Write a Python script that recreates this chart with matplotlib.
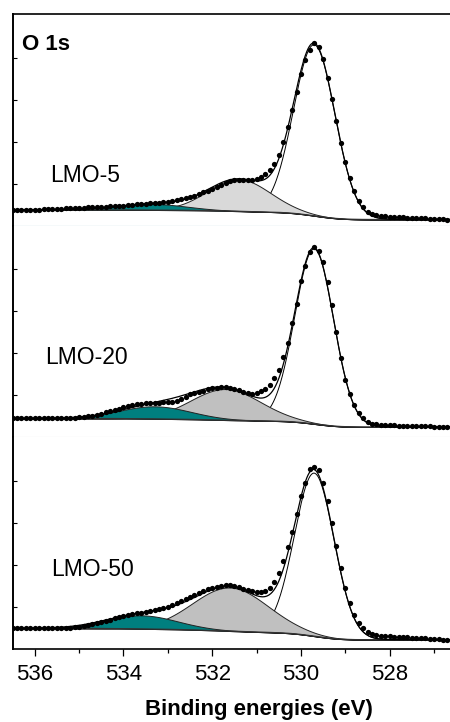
import numpy as np
import matplotlib
matplotlib.use("Agg")
import matplotlib.pyplot as plt
from matplotlib.ticker import MultipleLocator, FixedLocator

plt.rcParams['font.family'] = ['Liberation Sans', 'DejaVu Sans']

# binding energy grid of the measured points (eV), 0.1 eV steps
be = np.round(np.arange(536.5, 526.65, -0.1), 1)

# measured O 1s intensities (a.u.), from 536.5 down to 526.7 eV
lmo5 = [15.8, 15.9, 16.0, 15.9, 16.0, 16.0, 16.1, 16.2, 16.2, 16.3,
        16.5, 16.8, 17.2, 17.6, 17.8, 17.9, 18.0, 18.2, 18.4, 18.6,
        18.8, 19.0, 19.3, 19.5, 19.7, 20.0, 20.4, 20.8, 21.2, 21.6,
        22.0, 22.3, 22.6, 23.0, 23.5, 24.0, 24.6, 25.3, 26.2, 27.3,
        28.7, 30.0, 31.5, 33.2, 35.0, 37.0, 39.0, 41.0, 43.0, 44.5,
        45.5, 46.0, 46.0, 45.5, 45.5, 46.5, 48.5, 51.5, 55.5, 62.0,
        71.0, 83.5, 98.5, 116.0, 134.0, 151.5, 166.0, 176.0, 182.5, 179.0,
        167.0, 148.0, 126.5, 104.5, 83.0, 64.0, 48.0, 35.0, 25.0, 18.5,
        14.0, 11.5, 10.5, 9.8, 9.3, 9.0, 8.7, 8.4, 8.2, 8.0,
        7.8, 7.6, 7.4, 7.2, 7.0, 6.8, 6.5, 6.2, 6.0]
lmo20 = [19.0, 19.1, 18.9, 19.0, 19.1, 19.0, 19.1, 19.0, 19.1, 19.1,
         19.1, 19.2, 19.3, 19.4, 19.6, 19.9, 20.4, 21.0, 21.8, 22.8,
         23.8, 25.0, 26.3, 27.5, 28.8, 30.0, 31.0, 32.0, 33.0, 33.6,
         34.0, 34.3, 34.5, 34.7, 34.9, 35.2, 35.8, 36.8, 38.5, 40.5,
         43.0, 44.5, 45.7, 46.5, 48.2, 49.2, 49.8, 50.3, 50.0, 49.2,
         48.3, 47.0, 45.5, 44.3, 43.5, 44.0, 46.0, 48.5, 52.3, 59.5,
         67.5, 80.7, 94.0, 114.7, 133.0, 156.5, 171.5, 185.5, 190.5, 186.0,
         175.0, 155.0, 132.0, 105.5, 79.0, 57.0, 43.0, 32.3, 24.0, 19.0,
         15.3, 13.7, 13.0, 12.6, 12.3, 12.1, 11.9, 11.8, 11.6, 11.5,
         11.4, 11.2, 11.1, 11.0, 10.9, 10.7, 10.6, 10.4, 10.3]
lmo50 = [20.7, 20.6, 20.8, 20.7, 20.8, 20.7, 20.8, 20.8, 20.9, 20.9,
         20.9, 21.0, 21.1, 21.3, 21.6, 22.1, 22.8, 23.7, 24.7, 25.7,
         26.8, 28.0, 29.3, 30.7, 31.8, 32.7, 33.7, 34.7, 35.7, 36.3,
         37.0, 38.0, 38.9, 39.8, 40.7, 42.0, 43.5, 45.7, 48.0, 50.2,
         52.3, 54.2, 56.0, 58.0, 59.5, 61.0, 62.3, 63.3, 63.8, 63.5,
         62.7, 61.5, 60.0, 58.5, 57.5, 57.0, 57.0, 58.0, 60.5, 66.5,
         76.0, 88.0, 102.0, 117.0, 135.0, 153.3, 165.7, 180.0, 182.3, 179.0,
         166.0, 148.0, 126.0, 103.0, 81.0, 60.5, 46.0, 34.0, 26.0, 20.5,
         17.0, 14.8, 13.7, 13.2, 12.9, 12.6, 12.3, 12.1, 11.8, 11.6,
         11.3, 11.0, 10.8, 10.5, 10.2, 9.9, 9.6, 9.3, 9.0]

samples = ['LMO-5', 'LMO-20', 'LMO-50']
spectra = [lmo5, lmo20, lmo50]

# fitted components: centre (eV), FWHM (eV), height (a.u.)
lat_c = [529.70, 529.70, 529.70]
lat_w = [1.10, 1.03, 1.05]
lat_h = [171.0, 175.0, 163.0]
oh_c = [531.40, 531.70, 531.60]
oh_w = [1.65, 1.85, 2.00]
oh_h = [32.0, 31.0, 43.5]
h2o_c = [533.35, 533.30, 533.60]
h2o_w = [1.80, 1.90, 1.90]
h2o_h = [6.0, 12.5, 13.5]

oh_colors = ['#d9d9d9', '#c0c0c0', '#c0c0c0']
teal = '#007f7f'
major_ticks = [536, 534, 532, 530, 528]


def gauss(x, c, w, h):
    return h * np.exp(-4 * np.log(2) * (x - c) ** 2 / w ** 2)


W, H = 450, 722
fig = plt.figure(figsize=(W / 100, H / 100), dpi=100)

x0, x1 = 12.5, 505.0
tops = [14, 225.7, 437.3]
ph = 211.67
xf = np.linspace(536.5, 526.65, 800)

axes = []
for i in range(3):
    bottom = H - (tops[i] + ph)
    ax = fig.add_axes([x0 / W, bottom / H, (x1 - x0) / W, ph / H])
    axes.append(ax)
    y = np.array(spectra[i])

    lat = gauss(xf, lat_c[i], lat_w[i], lat_h[i])
    oh = gauss(xf, oh_c[i], oh_w[i], oh_h[i])
    h2o = gauss(xf, h2o_c[i], h2o_w[i], h2o_h[i])
    tot = lat + oh + h2o
    # Shirley-type background from the fitted peak area
    left, right = y[:3].mean(), y[-3:].mean()
    cum = np.cumsum(tot[::-1])[::-1]
    bg = right + (left - right) * cum / cum[0]

    ax.fill_between(xf, bg, bg + lat, color='white', lw=0, zorder=1)
    ax.plot(xf, bg + lat, color='black', lw=0.7, zorder=2)
    ax.fill_between(xf, bg, bg + oh, facecolor=oh_colors[i], edgecolor='#222222',
                    lw=0.7, zorder=3)
    ax.fill_between(xf, bg, bg + h2o, facecolor=teal, edgecolor='#222222',
                    lw=0.7, zorder=4)
    ax.plot(xf, bg, color='#333333', lw=0.8, zorder=5)
    ax.plot(xf, bg + tot, color='black', lw=0.9, zorder=6)
    ax.plot(be, y, 'o', color='black', ms=3.8, mew=0, zorder=7)

    ax.set_xlim(536.5, 536.5 - (x1 - x0) / 44.375)
    ax.set_ylim(0, ph)
    ax.spines['right'].set_visible(False)
    ax.spines['left'].set_linewidth(1.4)
    ax.set_yticks([42, 84, 126, 168])
    ax.tick_params(axis='y', direction='in', length=3, width=0.8, labelleft=False)
    ax.xaxis.set_major_locator(FixedLocator(major_ticks))
    ax.xaxis.set_minor_locator(MultipleLocator(1))

for i, ax in enumerate(axes):
    if i < 2:
        ax.tick_params(axis='x', which='both', bottom=False, labelbottom=False)
    if i > 0:
        ax.spines['top'].set_visible(False)

axes[0].spines['top'].set_linewidth(1.2)
axes[0].spines['bottom'].set_color('#cfe3ea')
axes[0].spines['bottom'].set_linewidth(1.0)
axes[1].spines['bottom'].set_color('#f0f0f0')
axes[1].spines['bottom'].set_linewidth(1.0)
axes[2].spines['bottom'].set_linewidth(1.2)
axes[2].tick_params(axis='x', which='major', direction='out', length=5, width=0.9,
                    labelsize=16, pad=6)
axes[2].tick_params(axis='x', which='minor', direction='out', length=3, width=0.9)

# labels
fig.text(22.5 / W, 1 - 45 / H, 'O 1s', fontsize=16, fontweight='bold',
         ha='left', va='center')
label_pos = [(50, 175), (45, 358), (51, 570)]
for name, (lx, ly) in zip(samples, label_pos):
    fig.text(lx / W, 1 - ly / H, name, fontsize=16.5, ha='left', va='center')
fig.text((x0 + x1) / 2 / W, 1 - 710 / H, 'Binding energies (eV)', fontsize=16,
         fontweight='bold', ha='center', va='center')

fig.savefig('out.png', dpi=100)
